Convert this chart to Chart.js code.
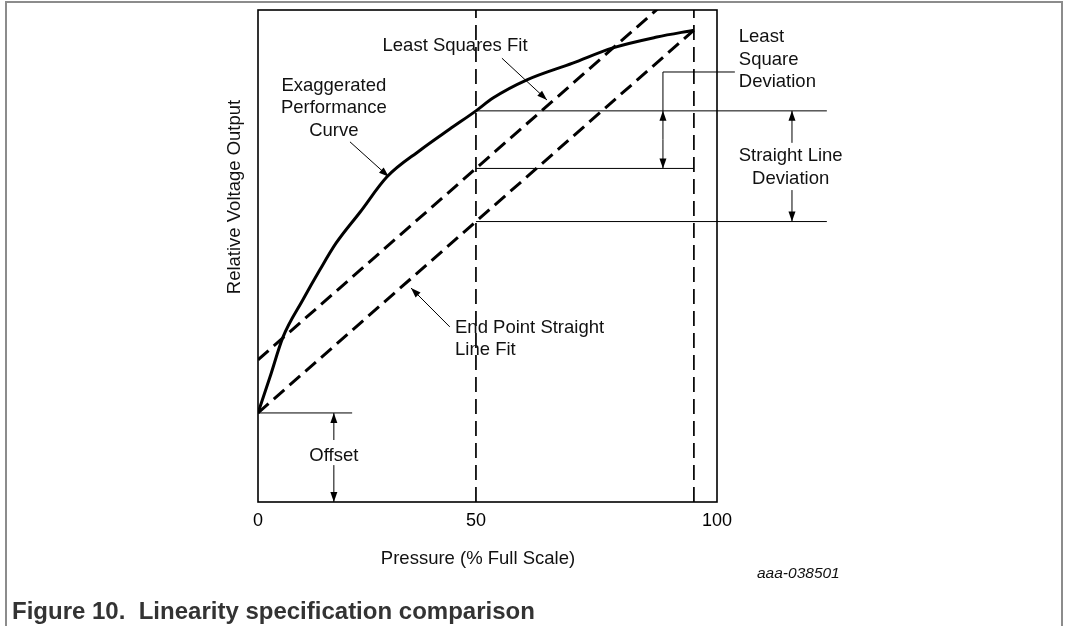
<!DOCTYPE html>
<html>
<head>
<meta charset="utf-8">
<script src="https://cdn.jsdelivr.net/npm/chart.js"></script>
<style>
  html, body { margin: 0; padding: 0; background: #fff; }
  #wrap { position: relative; width: 1065px; height: 626px; }
</style>
</head>
<body>
<div id="wrap"><canvas id="linearityChart"></canvas></div>
<script>
// exaggerated performance curve, pressure in % full scale vs relative output
const pressure = [0, 2.75, 5.73, 10.3, 14.2, 17.9, 23.4, 29.6, 37.2, 44.0, 50, 53.9, 61.7, 72.2, 81.4, 91.5, 100];
const curveOutput = [18.1, 25.4, 33.5, 41.1, 47.2, 52.6, 58.9, 66.1, 71.5, 75.8, 79.5, 82.1, 85.8, 89.2, 92.3, 94.5, 95.9];
// straight line fits
const endPointX = [0, 100];
const endPointY = [18.1, 95.9];
const leastSquaresX = [0, 100];
const leastSquaresY = [28.9, 106.7];
// dashed markers at half and full scale
const markerX = [50, 100];
const offsetValue = 18.1;
// the drawing puts its "100" label at the right edge of the box
const xMax = 105.3;
const xTicks = [0, 50, 105.3];
const xTickLabels = ["0", "50", "100"];

const FONT = "'Liberation Sans', Arial, sans-serif";

function valueAt(xs, ys, v) {
  for (let i = 1; i < xs.length; i++) {
    if (v <= xs[i]) {
      const t = (v - xs[i - 1]) / (xs[i] - xs[i - 1]);
      return ys[i - 1] + t * (ys[i] - ys[i - 1]);
    }
  }
  return ys[ys.length - 1];
}

function line(ctx, x1, y1, x2, y2) {
  ctx.beginPath();
  ctx.moveTo(x1, y1);
  ctx.lineTo(x2, y2);
  ctx.stroke();
}

function arrow(ctx, x1, y1, x2, y2) {
  line(ctx, x1, y1, x2, y2);
  const a = Math.atan2(y2 - y1, x2 - x1);
  const len = 10, w = 3.5;
  ctx.beginPath();
  ctx.moveTo(x2, y2);
  ctx.lineTo(x2 - len * Math.cos(a) + w * Math.sin(a), y2 - len * Math.sin(a) - w * Math.cos(a));
  ctx.lineTo(x2 - len * Math.cos(a) - w * Math.sin(a), y2 - len * Math.sin(a) + w * Math.cos(a));
  ctx.closePath();
  ctx.fill();
}

function text(ctx, lines, x, y, align) {
  ctx.textAlign = align || "center";
  lines.forEach((s, i) => ctx.fillText(s, x, y + i * 22.5));
}

const annotations = {
  id: "annotations",
  afterDraw(chart) {
    const { ctx, chartArea: a, scales } = chart;
    const X = v => scales.x.getPixelForValue(v);
    const Y = v => scales.y.getPixelForValue(v);
    const yCurve = valueAt(pressure, curveOutput, 50);
    const yLs = valueAt(leastSquaresX, leastSquaresY, 50);
    const yEp = valueAt(endPointX, endPointY, 50);

    ctx.save();
    // figure frame
    ctx.strokeStyle = "#8c8c8c";
    ctx.lineWidth = 2;
    ctx.beginPath();
    ctx.moveTo(6, 626);
    ctx.lineTo(6, 2);
    ctx.lineTo(1062, 2);
    ctx.lineTo(1062, 626);
    ctx.stroke();

    // plot box
    ctx.strokeStyle = "#000";
    ctx.lineWidth = 1.6;
    ctx.strokeRect(a.left, a.top, a.right - a.left, a.bottom - a.top);

    ctx.lineWidth = 1;
    ctx.fillStyle = "#000";
    // deviation levels at 50 %
    line(ctx, X(50), Y(yCurve), X(130.5), Y(yCurve));
    line(ctx, X(50), Y(yLs), X(100), Y(yLs));
    line(ctx, X(50), Y(yEp), X(130.5), Y(yEp));

    // least square deviation bracket
    line(ctx, X(92.9), Y(87.4), X(109.4), Y(87.4));
    line(ctx, X(92.9), Y(87.4), X(92.9), Y(yCurve));
    arrow(ctx, X(92.9), Y((yCurve + yLs) / 2), X(92.9), Y(yCurve));
    arrow(ctx, X(92.9), Y((yCurve + yLs) / 2), X(92.9), Y(yLs));

    // straight line deviation
    arrow(ctx, X(122.5), Y(73.0), X(122.5), Y(yCurve));
    arrow(ctx, X(122.5), Y(63.4), X(122.5), Y(yEp));

    // offset
    line(ctx, X(0), Y(offsetValue), X(21.6), Y(offsetValue));
    arrow(ctx, X(17.4), Y(12.6), X(17.4), Y(offsetValue));
    arrow(ctx, X(17.4), Y(7.5), X(17.4), Y(0));

    // leaders
    arrow(ctx, X(55.96), Y(90.2), X(66.3), Y(81.7));
    arrow(ctx, X(21.1), Y(73.2), X(30.0), Y(66.1));
    arrow(ctx, X(44.0), Y(35.6), X(35.1), Y(43.5));

    // labels
    ctx.fillStyle = "#111";
    ctx.font = "18.5px " + FONT;
    ctx.textBaseline = "middle";
    text(ctx, ["Least Squares Fit"], X(45.2), Y(92.7));
    text(ctx, ["Exaggerated", "Performance", "Curve"], X(17.4), Y(84.6));
    text(ctx, ["Least", "Square", "Deviation"], X(110.3), Y(94.5), "left");
    text(ctx, ["Straight Line", "Deviation"], X(122.2), Y(70.3));
    text(ctx, ["End Point Straight", "Line Fit"], X(45.2), Y(35.4), "left");
    text(ctx, ["Offset"], X(17.4), Y(9.3));

    // axis titles
    text(ctx, ["Pressure (% Full Scale)"], 478, 559);
    ctx.save();
    ctx.translate(235, 197);
    ctx.rotate(-Math.PI / 2);
    text(ctx, ["Relative Voltage Output"], 0, 0);
    ctx.restore();

    ctx.font = "italic 15.5px " + FONT;
    text(ctx, ["aaa-038501"], 757, 574, "left");

    ctx.fillStyle = "#333";
    ctx.font = "bold 24px " + FONT;
    text(ctx, ["Figure 10.  Linearity specification comparison"], 12, 612, "left");
    ctx.restore();
  }
};

const xy = (xs, ys) => xs.map((v, i) => ({ x: v, y: ys[i] }));

new Chart(document.getElementById("linearityChart"), {
  type: "line",
  data: {
    datasets: [
      {
        label: "Exaggerated Performance Curve",
        data: xy(pressure, curveOutput),
        borderColor: "#000",
        borderWidth: 3,
        cubicInterpolationMode: "monotone",
        pointRadius: 0,
        clip: 0
      },
      {
        label: "Least Squares Fit",
        data: xy(leastSquaresX, leastSquaresY),
        borderColor: "#000",
        borderWidth: 3,
        borderDash: [14, 7],
        pointRadius: 0,
        clip: 0
      },
      {
        label: "End Point Straight Line Fit",
        data: xy(endPointX, endPointY),
        borderColor: "#000",
        borderWidth: 3,
        borderDash: [14, 7],
        pointRadius: 0,
        clip: 0
      },
      ...markerX.map(m => ({
        label: "marker " + m,
        data: [{ x: m, y: 0 }, { x: m, y: 100 }],
        borderColor: "#000",
        borderWidth: 1.7,
        borderDash: [15, 7],
        pointRadius: 0
      }))
    ]
  },
  options: {
    responsive: true,
    maintainAspectRatio: false,
    animation: false,
    layout: { padding: { left: 221, right: 348, top: 10, bottom: 94 } },
    plugins: {
      legend: { display: false },
      tooltip: { enabled: false }
    },
    scales: {
      x: {
        type: "linear",
        min: 0,
        max: xMax,
        grid: { display: false, drawTicks: false },
        border: { display: false },
        afterBuildTicks: s => { s.ticks = xTicks.map(v => ({ value: v })); },
        afterFit: s => { s.height = 30; },
        ticks: {
          padding: 8,
          color: "#000",
          font: { family: FONT, size: 18 },
          maxRotation: 0,
          callback: (v, i) => xTickLabels[i]
        }
      },
      y: {
        type: "linear",
        min: 0,
        max: 100,
        grid: { display: false, drawTicks: false },
        border: { display: false },
        afterFit: s => { s.width = 37; },
        ticks: { display: false }
      }
    }
  },
  plugins: [annotations]
});
</script>
</body>
</html>
